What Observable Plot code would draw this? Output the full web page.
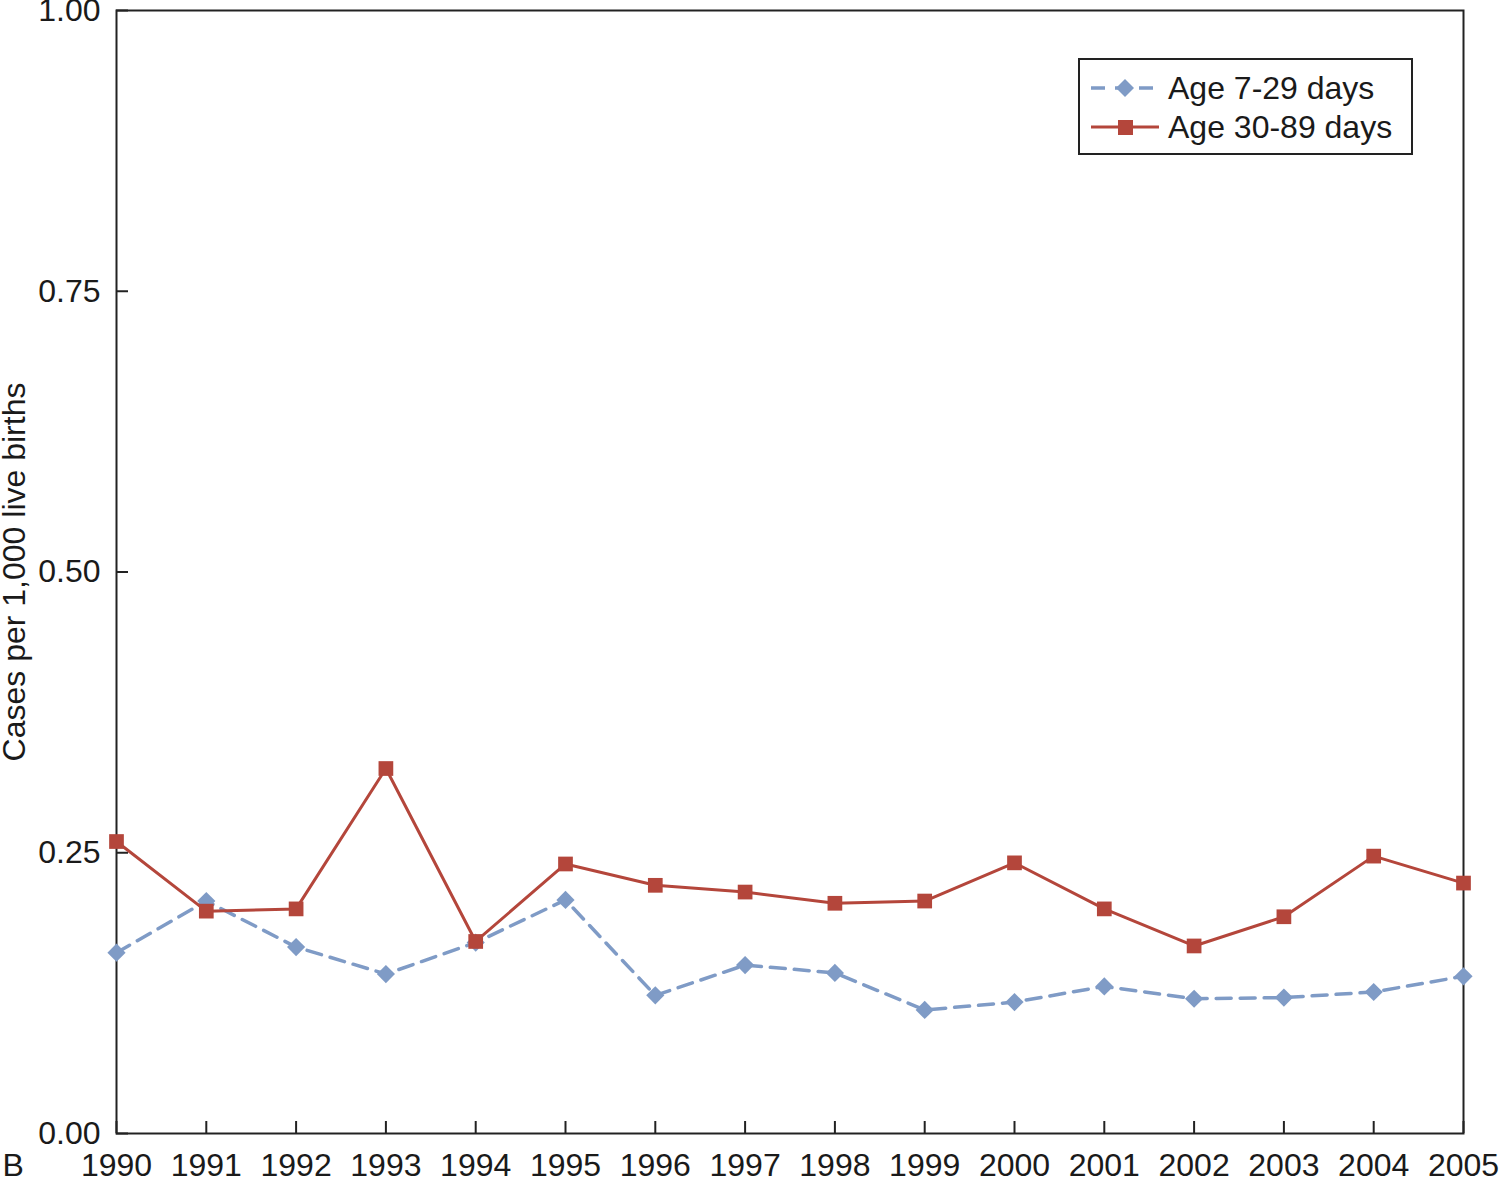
<!DOCTYPE html>
<html>
<head>
<meta charset="utf-8">
<script src="https://cdn.jsdelivr.net/npm/d3@7"></script>
<script src="https://cdn.jsdelivr.net/npm/@observablehq/plot@0.6"></script>
<style>
  html, body { margin: 0; padding: 0; background: #fff; }
  #wrap { position: relative; width: 1500px; height: 1179px; font-family: "Liberation Sans", Arial, Helvetica, sans-serif; }
  #legend { position: absolute; left: 1078px; top: 58px; width: 331px; height: 93px; border: 2px solid #222; background: #fff; }
  .row { position: absolute; left: 0; height: 40px; display: flex; align-items: center; }
  .row span { font-size: 32px; color: #1a1a1a; margin-left: 8px; }
</style>
</head>
<body>
<div id="wrap"></div>
<script>
const years = [1990,1991,1992,1993,1994,1995,1996,1997,1998,1999,2000,2001,2002,2003,2004,2005];
const age7to29 = [0.161,0.207,0.166,0.142,0.170,0.208,0.123,0.150,0.143,0.110,0.117,0.131,0.120,0.121,0.126,0.140];
const age30to89 = [0.260,0.198,0.200,0.325,0.171,0.240,0.221,0.215,0.205,0.207,0.241,0.200,0.167,0.193,0.247,0.223];
const yTicks = [0, 0.25, 0.5, 0.75, 1.0];
const seriesNames = ["Age 7-29 days", "Age 30-89 days"];
const blue = "#7f9bc6", red = "#b4463b";

const dataBlue = years.map((y, i) => ({year: y, value: age7to29[i]}));
const dataRed = years.map((y, i) => ({year: y, value: age30to89[i]}));

const chart = Plot.plot({
  width: 1500,
  height: 1179,
  marginLeft: 116,
  marginRight: 37,
  marginTop: 10,
  marginBottom: 46,
  style: {fontFamily: "Liberation Sans, Arial, Helvetica, sans-serif", fontSize: "32px", color: "#1a1a1a", background: "#fff"},
  x: {domain: [1990, 2005]},
  y: {domain: [0, 1]},
  marks: [
    Plot.frame({stroke: "#222", strokeWidth: 2}),
    Plot.axisX({ticks: years, tickFormat: d => String(d), tickSize: -12, tickPadding: 32, strokeWidth: 2, stroke: "#222", fontSize: 32, label: null}),
    Plot.axisY({ticks: yTicks, tickFormat: d3.format(".2f"), tickSize: -12, tickPadding: 28, strokeWidth: 2, stroke: "#222", fontSize: 32,
      label: "Cases per 1,000 live births", labelAnchor: "center", labelArrow: "none", labelOffset: 114}),
    Plot.line(dataBlue, {x: "year", y: "value", stroke: blue, strokeWidth: 3.5, strokeDasharray: "15,9"}),
    Plot.dot(dataBlue, {x: "year", y: "value", symbol: "diamond2", r: 8.2, fill: blue, stroke: "none"}),
    Plot.line(dataRed, {x: "year", y: "value", stroke: red, strokeWidth: 3}),
    Plot.dot(dataRed, {x: "year", y: "value", symbol: "square", r: 8.3, fill: red, stroke: "none"}),
    Plot.text(["B"], {frameAnchor: "bottom-left", dx: -114, dy: 20, lineAnchor: "top", textAnchor: "start", fontSize: 32, fill: "#1a1a1a"})
  ]
});
document.getElementById("wrap").appendChild(chart);

// Legend
const legend = document.createElement("div");
legend.id = "legend";
const specs = [
  {name: seriesNames[0], color: blue, dash: "15,9", sym: "diamond", top: 8},
  {name: seriesNames[1], color: red, dash: null, sym: "square", top: 47}
];
for (const s of specs) {
  const row = document.createElement("div");
  row.className = "row";
  row.style.top = s.top + "px";
  const ns = "http://www.w3.org/2000/svg";
  const svg = document.createElementNS(ns, "svg");
  svg.setAttribute("width", "88");
  svg.setAttribute("height", "40");
  const line = document.createElementNS(ns, "line");
  line.setAttribute("x1", "11"); line.setAttribute("x2", "79");
  line.setAttribute("y1", "20"); line.setAttribute("y2", "20");
  line.setAttribute("stroke", s.color);
  line.setAttribute("stroke-width", s.dash ? "3.5" : "3");
  if (s.dash) line.setAttribute("stroke-dasharray", "14,10");
  svg.appendChild(line);
  if (s.sym === "diamond") {
    const p = document.createElementNS(ns, "path");
    p.setAttribute("d", "M45,11 L54,20 L45,29 L36,20 Z");
    p.setAttribute("fill", s.color);
    svg.appendChild(p);
  } else {
    const r = document.createElementNS(ns, "rect");
    r.setAttribute("x", "38"); r.setAttribute("y", "13");
    r.setAttribute("width", "15"); r.setAttribute("height", "15");
    r.setAttribute("fill", s.color);
    svg.appendChild(r);
  }
  row.appendChild(svg);
  const t = document.createElement("span");
  t.textContent = s.name;
  t.style.marginLeft = "0px";
  row.appendChild(t);
  legend.appendChild(row);
}
document.getElementById("wrap").appendChild(legend);
</script>
</body>
</html>
